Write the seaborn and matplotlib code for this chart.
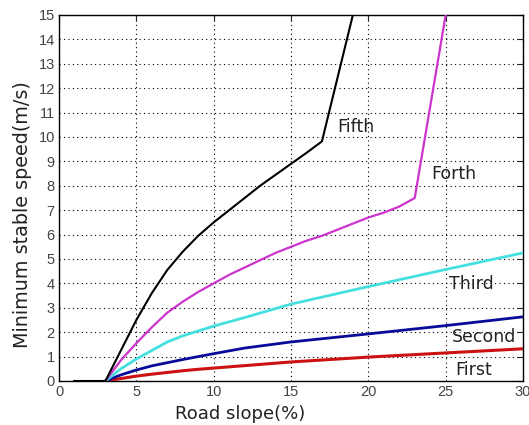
import matplotlib
matplotlib.use("Agg")
import matplotlib.pyplot as plt
import seaborn as sns
import pandas as pd

# ---- data ----
base_x = [1, 2, 3]
base_y = [0, 0, 0]

fifth_x = [3, 4, 5, 6, 7, 8, 9, 10, 11, 12, 13, 14, 15, 16, 17, 19]
fifth_y = [0, 1.25, 2.5, 3.6, 4.55, 5.3, 5.95, 6.5, 7.0, 7.5, 8.0, 8.45, 8.9, 9.35, 9.82, 15.0]

forth_x = [3, 4, 5, 6, 7, 8, 9, 10, 11, 12, 13, 14, 15, 16, 17, 18, 19, 20, 21, 22, 23, 25]
forth_y = [0, 0.85, 1.55, 2.2, 2.8, 3.25, 3.65, 4.0, 4.35, 4.65, 4.95, 5.25, 5.5, 5.75,
           5.95, 6.2, 6.45, 6.7, 6.9, 7.15, 7.5, 15.0]

third_x = [3, 4, 5, 6, 7, 8, 9, 10, 12, 15, 20, 25, 30]
third_y = [0, 0.5, 0.9, 1.25, 1.6, 1.85, 2.05, 2.25, 2.6, 3.15, 3.87, 4.57, 5.25]

second_x = [3, 4, 5, 6, 7, 8, 9, 10, 12, 15, 20, 25, 30]
second_y = [0, 0.25, 0.45, 0.62, 0.75, 0.88, 1.0, 1.12, 1.35, 1.6, 1.93, 2.27, 2.63]

first_x = [3, 4, 5, 6, 7, 8, 9, 10, 12, 15, 20, 25, 30]
first_y = [0, 0.1, 0.2, 0.28, 0.35, 0.42, 0.48, 0.53, 0.63, 0.78, 0.98, 1.15, 1.32]

labels = ["Fifth", "Forth", "Third", "Second", "First"]
label_x = [18.0, 24.1, 25.2, 25.4, 25.6]
label_y = [10.4, 8.5, 3.97, 1.8, 0.45]

x_ticks = [0, 5, 10, 15, 20, 25, 30]
y_ticks = list(range(0, 16))

# ---- figure ----
sns.set_style("white")
plt.rcParams['font.family'] = ['DejaVu Sans']

fig = plt.figure(figsize=(5.29, 4.25), dpi=100)
ax = fig.add_axes([59 / 529, 44 / 425, 464 / 529, 366 / 425])

series = [
    (fifth_x, fifth_y, "#000000", 1.5),
    (forth_x, forth_y, "#cc33cc", 1.6),
    (third_x, third_y, "#44e0e0", 2.0),
    (second_x, second_y, "#0a0a9a", 2.0),
    (first_x, first_y, "#cc1111", 2.2),
]
for xs, ys, col, lw in series[::-1]:
    df = pd.DataFrame({"x": xs, "y": ys})
    sns.lineplot(data=df, x="x", y="y", ax=ax, color=col, linewidth=lw,
                 estimator=None, sort=False, zorder=3)
sns.lineplot(data=pd.DataFrame({"x": base_x, "y": base_y}), x="x", y="y", ax=ax,
             color="#000000", linewidth=1.5, estimator=None, sort=False, zorder=4)

for t, lx, ly in zip(labels, label_x, label_y):
    ax.text(lx, ly, t, fontsize=12.5, color="#222222", ha="left", va="center", zorder=5)

ax.set_xlim(0, 30)
ax.set_ylim(0, 15)
ax.set_xticks(x_ticks)
ax.set_yticks(y_ticks)
ax.grid(True, color="#000000", linestyle=(0, (1, 3)), linewidth=0.8)
ax.tick_params(direction="in", top=True, right=True, length=4, width=0.8,
               labelsize=10.5, labelcolor="#444444", pad=3)
for lab in ax.get_xticklabels() + ax.get_yticklabels():
    lab.set_family(['Liberation Sans', 'DejaVu Sans'])
for s in ax.spines.values():
    s.set_color("#000000")
    s.set_linewidth(1.0)

ax.set_xlabel("Road slope(%)", fontsize=13, color="#222222")
ax.set_ylabel("Minimum stable speed(m/s)", fontsize=13.8, color="#222222")
ax.xaxis.set_label_coords(0.39, -0.065)
ax.yaxis.set_label_coords(-0.058, 0.455)

fig.savefig("out.png", dpi=100)
